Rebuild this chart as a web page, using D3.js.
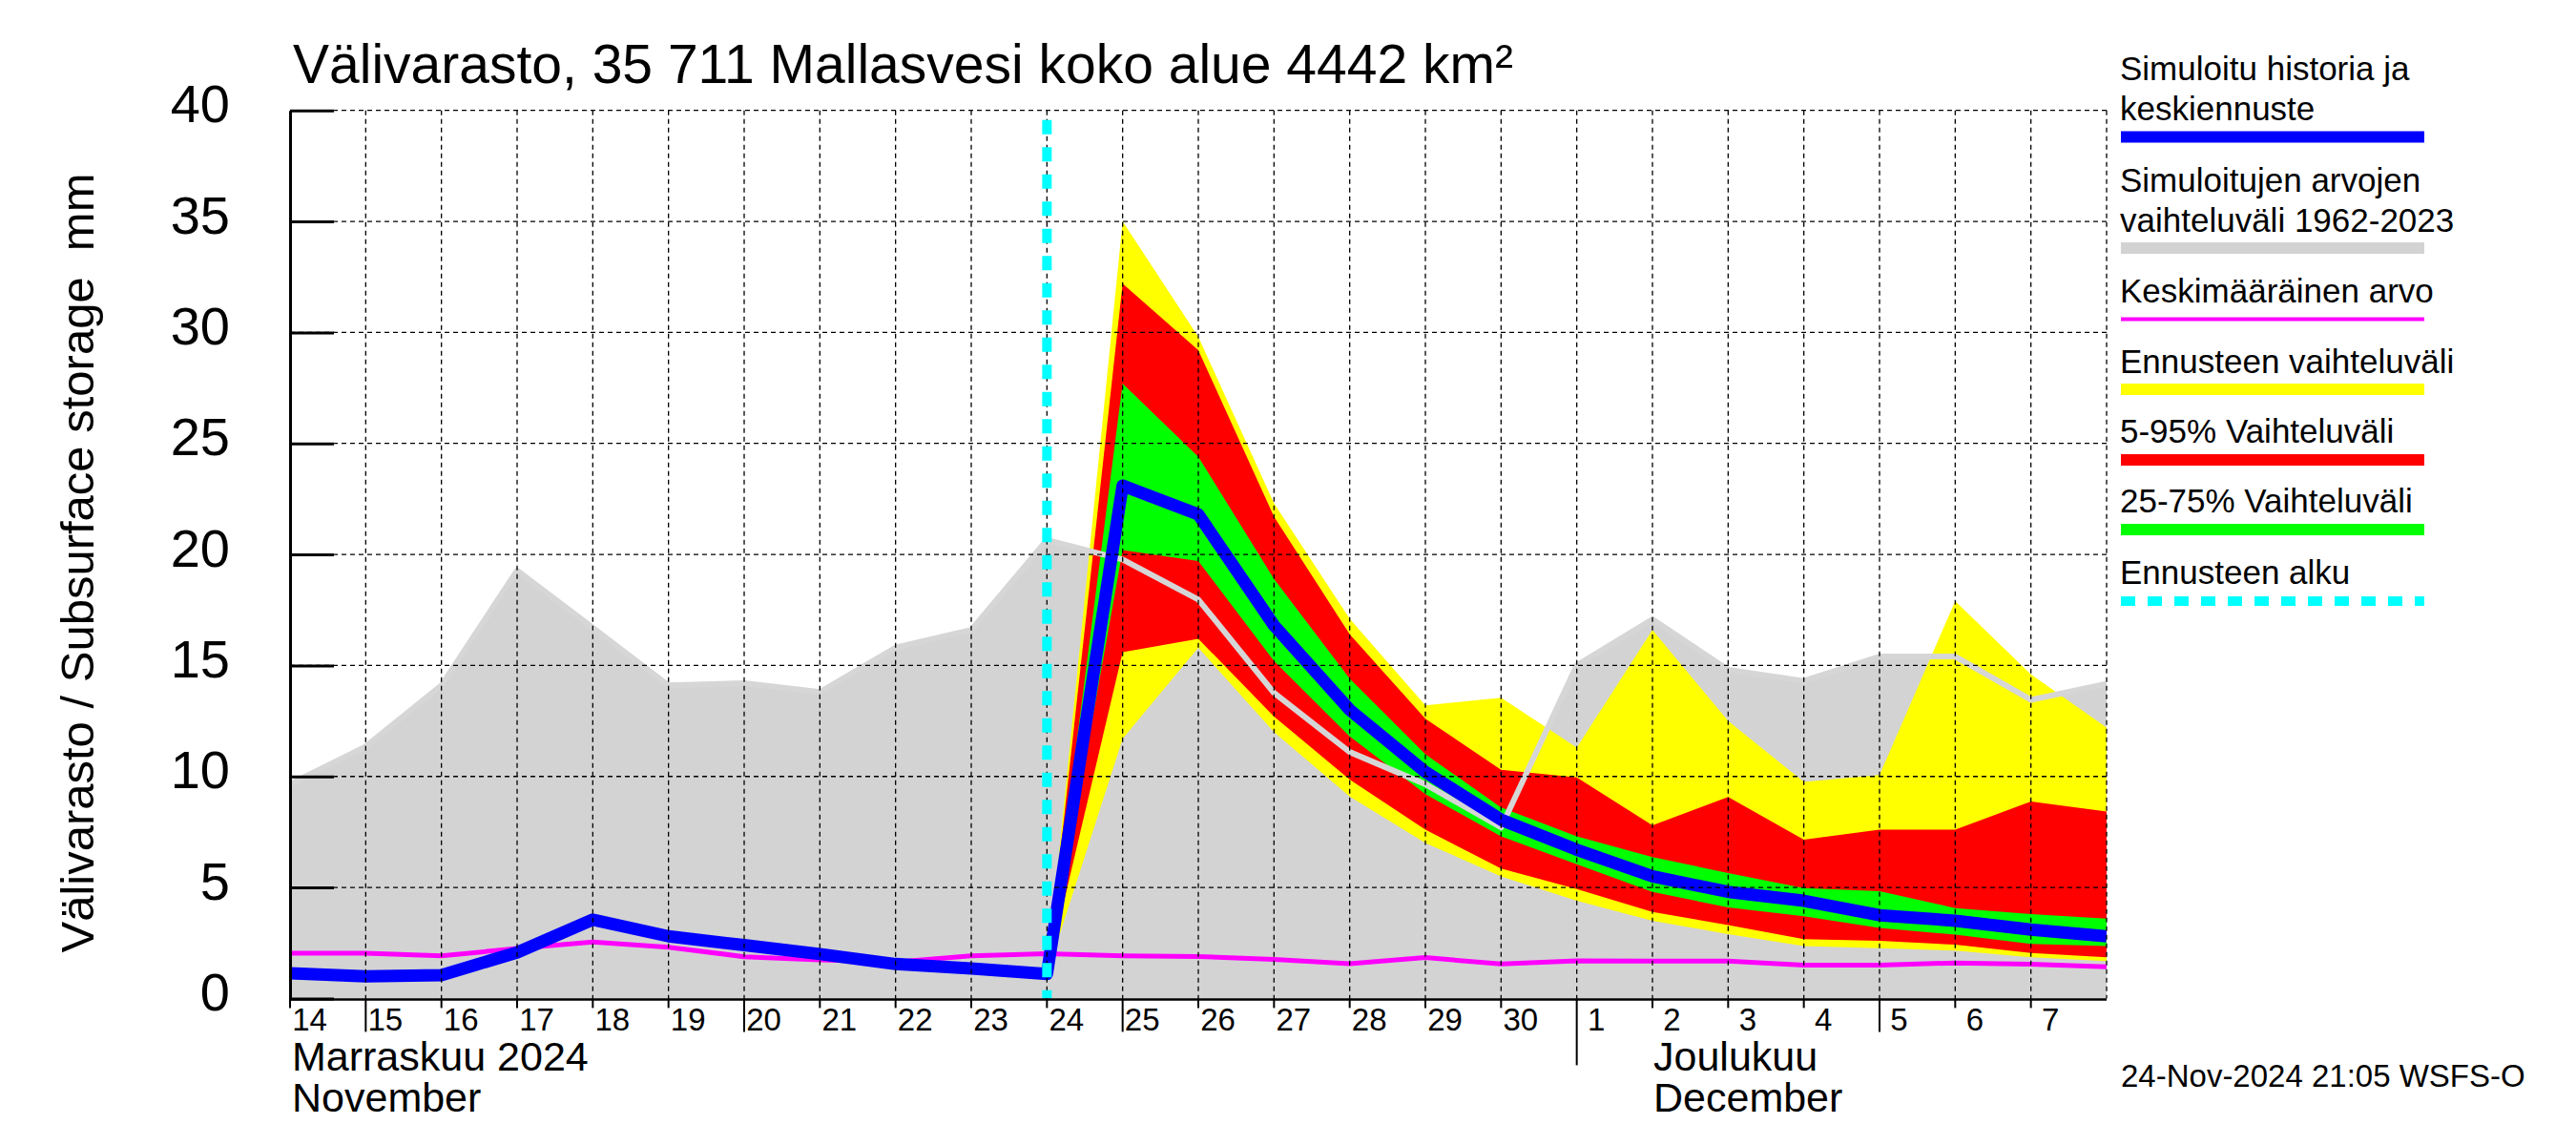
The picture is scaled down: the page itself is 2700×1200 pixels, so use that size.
<!DOCTYPE html>
<html><head><meta charset="utf-8">
<script src="https://cdn.jsdelivr.net/npm/d3@7"></script>
<style>
body{margin:0;background:#fff}
text{font-family:"Liberation Sans",Arial,Helvetica,sans-serif;fill:#000}
</style>
</head><body>
<svg id="c" width="2700" height="1200"></svg>
<script>
// ---------- data ----------
const startDay = "2024-11-14";
const endDay = "2024-12-08";
const dayLabels = ["14","15","16","17","18","19","20","21","22","23","24","25","26","27","28","29","30","1","2","3","4","5","6","7"];
const longTickLabels = ["15","20","25","5"];
const monthStartLabel = "1";
const monthLabels = [
  {fi:"Marraskuu 2024", en:"November", day:"14"},
  {fi:"Joulukuu", en:"December", day:"2"}
];
// Nov 14 .. Dec 8 (25 daily values)
const histMax = [9.65,11.35,14.1,19.28,16.7,14.1,14.2,13.8,15.8,16.6,20.65,19.77,17.97,13.76,11.1,9.65,7.7,15.0,17.08,14.8,14.3,15.4,15.4,13.45,14.17];
const histMin = [0,0,0,0,0,0,0,0,0,0,0,0,0,0,0,0,0,0,0,0,0,0,0,0,0];
const meanVals = [2.04,2.04,1.92,2.25,2.54,2.31,1.88,1.74,1.64,1.92,2.02,1.92,1.89,1.76,1.56,1.84,1.55,1.69,1.68,1.68,1.5,1.5,1.6,1.54,1.42];
const medianVals = [1.13,1.0,1.05,2.07,3.55,2.8,2.4,2.0,1.55,1.35,1.1,23.1,21.8,16.8,13.0,10.2,8.05,6.7,5.5,4.8,4.4,3.75,3.5,3.1,2.8];
// forecast Nov 24 .. Dec 8 (15 values)
const forecastStart = "2024-11-24";
const yellowMax = [1.1,35.0,29.8,22.3,17.1,13.2,13.55,11.3,16.6,12.5,9.75,10.06,17.9,14.6,12.2];
const redMax    = [1.1,32.2,29.2,21.7,16.4,12.6,10.3,9.96,7.8,9.08,7.15,7.6,7.6,8.87,8.42];
const greenMax  = [1.1,27.7,24.4,18.9,14.4,11.0,8.6,7.3,6.37,5.65,4.97,4.83,4.07,3.8,3.6];
const greenMin  = [1.1,20.2,19.7,15.2,11.8,9.2,7.3,6.05,4.8,4.1,3.7,3.18,2.87,2.46,2.36];
const redMin    = [1.1,15.6,16.2,12.7,9.86,7.6,5.85,4.93,3.9,3.3,2.67,2.6,2.42,2.05,1.85];
const yellowMin = [1.1,11.7,15.8,12.0,9.1,7.0,5.5,4.4,3.5,2.9,2.36,2.26,2.16,1.85,1.68];
const yTicks = [0,5,10,15,20,25,30,35,40];

const titleText = "Välivarasto, 35 711 Mallasvesi koko alue 4442 km²";
const yTitle = "Välivarasto / Subsurface storage  mm";
const stampText = "24-Nov-2024 21:05 WSFS-O";
const legendItems = [
  {lines:["Simuloitu historia ja","keskiennuste"], color:"#0000ff", w:12},
  {lines:["Simuloitujen arvojen","vaihteluväli 1962-2023"], color:"#d3d3d3", w:12},
  {lines:["Keskimääräinen arvo"], color:"#ff00ff", w:4},
  {lines:["Ennusteen vaihteluväli"], color:"#ffff00", w:12},
  {lines:["5-95% Vaihteluväli"], color:"#ff0000", w:12},
  {lines:["25-75% Vaihteluväli"], color:"#00ff00", w:12},
  {lines:["Ennusteen alku"], color:"#00ffff", w:10, dash:"15,13"}
];

// ---------- layout ----------
const L = 304, R = 2208, T = 115.7, B = 1046.4;
const svg = d3.select("#c");
const parse = d3.utcParse("%Y-%m-%d");
const d0 = parse(startDay), d1 = parse(endDay), fc0 = parse(forecastStart);
const x = d3.scaleUtc().domain([d0, d1]).range([L, R]);
const y = d3.scaleLinear().domain([0, 40]).range([B, T]);
const days = d3.utcDay.range(d0, d3.utcDay.offset(d1, 1));
const fcDays = d3.utcDay.range(fc0, d3.utcDay.offset(d1, 1));

svg.append("defs").append("clipPath").attr("id","pc")
  .append("rect").attr("x",L).attr("y",T-2).attr("width",R-L).attr("height",B-T+4);
const plot = svg.append("g").attr("clip-path","url(#pc)");

// historical range
const histArea = d3.area().x((d,i)=>x(days[i])).y0((d,i)=>y(histMin[i])).y1(d=>y(d));
plot.append("path").datum(histMax).attr("d",histArea).attr("fill","#d3d3d3");

// forecast bands
function band(lo, hi, color){
  const a = d3.area().x((d,i)=>x(fcDays[i])).y0((d,i)=>y(lo[i])).y1(d=>y(d));
  plot.append("path").datum(hi).attr("d",a).attr("fill",color);
}
band(yellowMin, yellowMax, "#ffff00");
band(redMin, redMax, "#ff0000");
band(greenMin, greenMax, "#00ff00");

// grid
const grid = svg.append("g").attr("stroke","#000").attr("stroke-width",1.3).attr("stroke-dasharray","5,4").attr("fill","none");
yTicks.filter(v=>v>0).forEach(v=>{
  grid.append("line").attr("x1",L).attr("x2",R).attr("y1",y(v)).attr("y2",y(v));
});
days.slice(1).forEach(d=>{
  grid.append("line").attr("x1",x(d)).attr("x2",x(d)).attr("y1",T).attr("y2",B);
});

// historical max line over bands
const line = d3.line().x((d,i)=>x(days[i])).y(d=>y(d));
plot.append("path").datum(histMax).attr("d",line).attr("fill","none")
  .attr("stroke","#d6d6d6").attr("stroke-width",6).attr("stroke-linejoin","round");

// mean line
plot.append("path").datum(meanVals).attr("d",line).attr("fill","none")
  .attr("stroke","#ff00ff").attr("stroke-width",5).attr("stroke-linejoin","round");

// forecast start
svg.append("line").attr("x1",x(fc0)).attr("x2",x(fc0)).attr("y1",T+10).attr("y2",B)
  .attr("stroke","#00ffff").attr("stroke-width",10).attr("stroke-dasharray","15,13.5");

// median / simulated line
plot.append("path").datum(medianVals).attr("d",line).attr("fill","none")
  .attr("stroke","#0000ff").attr("stroke-width",13).attr("stroke-linejoin","round");

// y axis
const yAxis = d3.axisLeft(y).tickValues(yTicks).tickSize(-46).tickSizeOuter(0).tickPadding(63);
const ga = svg.append("g").attr("transform",`translate(${L},0)`).call(yAxis);
ga.select(".domain").attr("stroke","#000").attr("stroke-width",3);
ga.selectAll(".tick line").attr("stroke","#000").attr("stroke-width",3);
ga.selectAll(".tick text").attr("dy",null).attr("y",12)
  .style("font-family",'"Liberation Sans",Arial,sans-serif').style("font-size","56px").attr("fill","#000");

// x axis
svg.append("line").attr("x1",L).attr("x2",R).attr("y1",B+1).attr("y2",B+1).attr("stroke","#000").attr("stroke-width",2.5);
const xt = svg.append("g");
days.slice(0,-1).forEach((d,i)=>{
  const lab = dayLabels[i];
  let len = 10;
  if (longTickLabels.includes(lab)) len = 35;
  if (lab === monthStartLabel) len = 70;
  xt.append("line").attr("x1",x(d)).attr("x2",x(d)).attr("y1",B).attr("y2",B+len)
    .attr("stroke","#000").attr("stroke-width",2);
  xt.append("text").attr("x",x(d)+20.5).attr("y",1080).attr("text-anchor","middle")
    .style("font-size","33px").text(lab);
});
monthLabels.forEach(m=>{
  const d = days[dayLabels.indexOf(m.day)];
  const tx = x(d)+(m.day==="14"?2:1);
  svg.append("text").attr("x",tx).attr("y",1121.7).style("font-size","43px").text(m.fi);
  svg.append("text").attr("x",tx).attr("y",1165).style("font-size","43px").text(m.en);
});

// titles
svg.append("text").attr("x",307).attr("y",87).style("font-size","57px").text(titleText);
svg.append("text").attr("transform","translate(98,590) rotate(-90)").attr("text-anchor","middle")
  .attr("xml:space","preserve").style("white-space","pre")
  .style("font-size","49px").text(yTitle);
svg.append("text").attr("x",2223).attr("y",1139).style("font-size","33px").text(stampText);

// legend
const lineBaselines = [[84,126],[200.8,243.4],[316.6],[390.9],[464],[537],[611.8]];
const barY = [143.5,260,334.4,408,482,555,630];
legendItems.forEach((it,k)=>{
  it.lines.forEach((t,j)=>{
    svg.append("text").attr("x",2222).attr("y",lineBaselines[k][j]).style("font-size","35px").text(t);
  });
  const b = svg.append("line").attr("x1",2223).attr("x2",2541).attr("y1",barY[k]).attr("y2",barY[k])
    .attr("stroke",it.color).attr("stroke-width",it.w);
  if (it.dash) b.attr("stroke-dasharray",it.dash);
});
</script>
</body></html>
